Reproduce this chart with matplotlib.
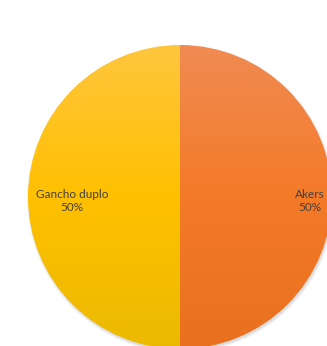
import numpy as np
import matplotlib
matplotlib.use("Agg")
import matplotlib.pyplot as plt
from matplotlib.colors import LinearSegmentedColormap
from matplotlib.patches import Circle

labels = ["Akers", "Gancho duplo"]
values = [50, 50]

# vertical gradients per slice (top, middle, bottom)
grad_colors = [
    ["#F08B52", "#F47A28", "#E8701E"],
    ["#FFC63E", "#FFC000", "#EBBA00"],
]

W, H = 327, 346
cx, cy, r = 180, 149, 152

fig = plt.figure(figsize=(W / 100, H / 100), dpi=100)
ax = fig.add_axes([0, 0, 1, 1])
ax.set_xlim(0, W)
ax.set_ylim(0, H)
ax.set_aspect("equal")
ax.axis("off")

# soft drop shadow under the pie
for k, a in enumerate([0.05, 0.07, 0.09]):
    ax.add_patch(Circle((cx + 1, cy - 2), r + 2 - k, color="#555555",
                        alpha=a, lw=0, zorder=0))

wedges, _ = ax.pie(values, startangle=90, counterclock=False,
                   center=(cx, cy), radius=r, frame=True,
                   wedgeprops=dict(linewidth=0))

grad = np.linspace(1, 0, 256).reshape(-1, 1)
for w, cols in zip(wedges, grad_colors):
    w.set_facecolor("none")
    cmap = LinearSegmentedColormap.from_list("g", cols[::-1])
    im = ax.imshow(grad, cmap=cmap, aspect="auto", origin="lower",
                   extent=(cx - r, cx + r, cy + r, cy - r), zorder=1,
                   interpolation="bilinear")
    im.set_extent((cx - r, cx + r, cy - r, cy + r))
    im.set_array(grad[::-1])
    im.set_clip_path(w)

ax.set_xlim(0, W)
ax.set_ylim(0, H)
ax.axis("off")

total = sum(values)
dist = [0.855, 0.71]
for w, lab, v, d in zip(wedges, labels, values, dist):
    ang = np.deg2rad((w.theta1 + w.theta2) / 2)
    x = cx + d * r * np.cos(ang)
    y = cy - 4 + d * r * np.sin(ang)
    ax.text(x, y, f"{lab}\n{v / total * 100:.0f}%", ha="center", va="center",
            fontsize=8.5, family=["Lato", "DejaVu Sans"], color="#404040",
            linespacing=1.3, zorder=3)

fig.savefig("out.png", dpi=100)
